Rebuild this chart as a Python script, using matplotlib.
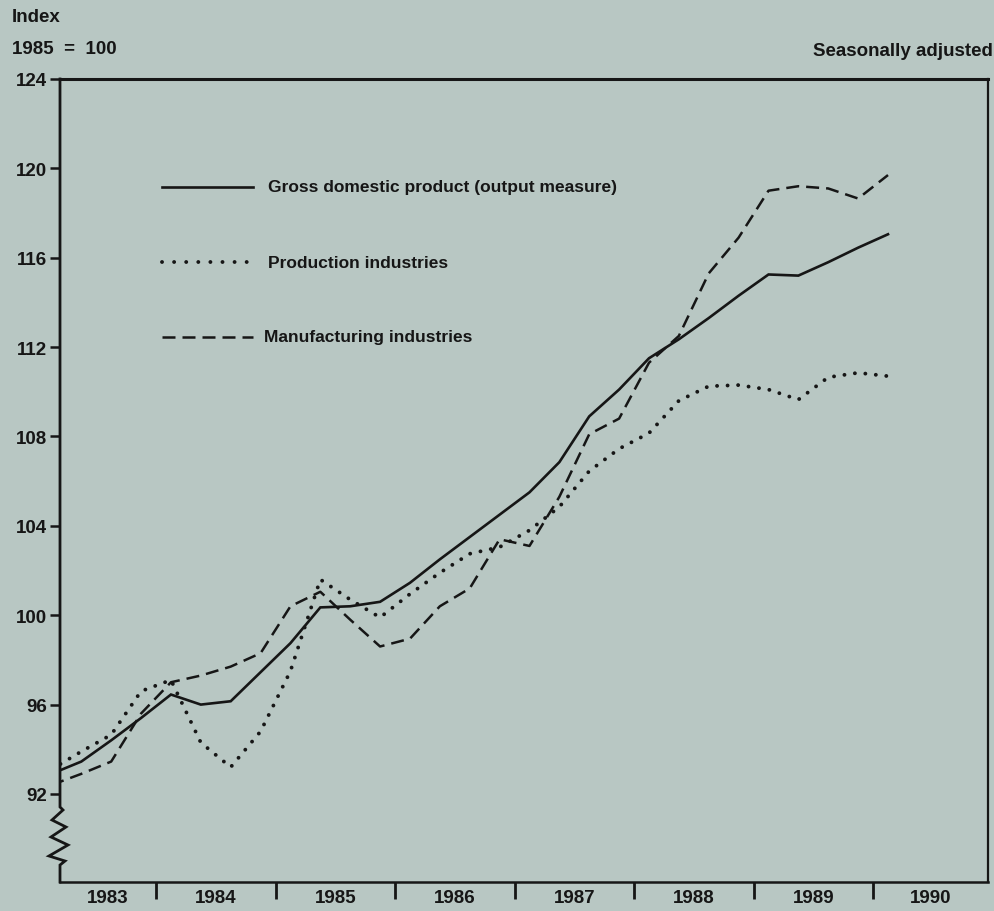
import matplotlib
matplotlib.use("Agg")
import matplotlib.pyplot as plt
import matplotlib.transforms as mtransforms
import numpy as np

plt.rcParams['font.family'] = ['Liberation Sans', 'DejaVu Sans']
plt.rcParams['font.weight'] = 'bold'

# quarterly index values, 1983 Q1 .. 1990 Q1 (1985 = 100)
quarters = [f"{y} Q{q}" for y in range(1983, 1991) for q in range(1, 5)][:29]
gdp = [92.9, 93.45, 94.4, 95.4, 96.45, 96.0, 96.15, 97.45, 98.75, 100.35,
       100.4, 100.6, 101.45, 102.5, 103.5, 104.5, 105.5, 106.85, 108.9, 110.1,
       111.5, 112.35, 113.3, 114.3, 115.25, 115.2, 115.8, 116.45, 117.05]
production = [93.1, 93.9, 94.65, 96.6, 97.1, 94.3, 93.2, 94.8, 97.5, 101.6,
              100.7, 99.9, 100.95, 101.9, 102.75, 103.05, 103.8, 104.85, 106.45, 107.45,
              108.15, 109.6, 110.25, 110.3, 110.1, 109.65, 110.65, 110.85, 110.7]
manufacturing = [92.4, 92.9, 93.45, 95.6, 97.0, 97.3, 97.7, 98.3, 100.4, 101.05,
                 99.8, 98.6, 98.95, 100.4, 101.2, 103.4, 103.1, 105.3, 108.1, 108.8,
                 111.3, 112.5, 115.3, 116.9, 119.0, 119.2, 119.1, 118.65, 119.7]
years = list(range(1983, 1991))
yticks = list(range(92, 125, 4))

# quarter mid-points in years
x = np.array([int(s[:4]) + (int(s[-1]) - 1) * 0.25 + 0.125 for s in quarters])

bg = '#b8c7c3'
ink = '#161616'

fig = plt.figure(figsize=(9.95, 9.12), dpi=100, facecolor=bg)
ax = fig.add_axes([0.0603, 0.0318, 0.9327, 0.8805], facecolor=bg)

ax.plot(x, gdp, color=ink, lw=1.9, solid_joinstyle='miter')
ax.plot(x, production, color=ink, lw=2.8, linestyle=(0, (0.01, 2.7)),
        dash_capstyle='round')
ax.plot(x, manufacturing, color=ink, lw=1.8, linestyle=(0, (5.2, 2.8)))

x0 = 1984 - 96 / 119.5
ax.set_xlim(x0, 1990.962)
ax.set_ylim(88.06, 124)

# axes frame
for s in ['top', 'right', 'bottom']:
    ax.spines[s].set_color(ink)
ax.spines['top'].set_linewidth(2.2)
ax.spines['right'].set_linewidth(1.6)
ax.spines['bottom'].set_linewidth(1.8)
ax.spines['left'].set_visible(False)

# left axis with a break (zigzag) below 92
W, H = 928.0, 803.0
zx = [0, 0, 3, -8, 6, -9, 8, -11, 5, 0, 0]
zy = [803, 75, 72, 62, 55, 45, 37, 26, 21, 17, 0]
ax.plot([v / W for v in zx], [v / H for v in zy],
        transform=ax.transAxes, color=ink, lw=2.0, clip_on=False,
        solid_joinstyle='miter')

ax.set_yticks(yticks)
ax.set_yticklabels([str(v) for v in yticks], fontsize=13.5, fontweight='bold')
ax.tick_params(axis='y', direction='out', length=7, width=1.8, pad=2, colors=ink)

ax.set_xticks(years[1:])
ax.set_xticklabels([])
ax.tick_params(axis='x', direction='out', length=12, width=2, colors=ink)

trans = mtransforms.blended_transform_factory(ax.transData, ax.transAxes)
for yr in years:
    lo = max(yr, x0)
    hi = min(yr + 1, 1990.962)
    ax.text((lo + hi) / 2, -0.019, str(yr), transform=trans, ha='center',
            va='center', fontsize=13.5, color=ink)

# legend drawn by hand
leg = [("Gross domestic product (output measure)", dict(lw=1.9, linestyle='-'), 0.8655, 0.224),
       ("Production industries", dict(lw=2.8, linestyle=(0, (0.01, 3.1)),
                                     dash_capstyle='round'), 0.772, 0.224),
       ("Manufacturing industries", dict(lw=1.8, linestyle=(0, (5.2, 2.8))), 0.6787, 0.220)]
for label, style, yy, tx in leg:
    ax.plot([0.110, 0.208], [yy, yy], transform=ax.transAxes, color=ink, **style)
    ax.text(tx, yy, label, transform=ax.transAxes, ha='left', va='center',
            fontsize=12.5, color=ink)

fig.text(12 / 995, 1 - 18 / 912, "Index", ha='left', va='center', fontsize=13.5, color=ink)
fig.text(12 / 995, 1 - 50 / 912, "1985  =  100", ha='left', va='center', fontsize=13.5, color=ink)
fig.text(993 / 995, 1 - 52 / 912, "Seasonally adjusted", ha='right', va='center',
         fontsize=13.5, color=ink)

fig.savefig("out.png", dpi=100, facecolor=bg)
